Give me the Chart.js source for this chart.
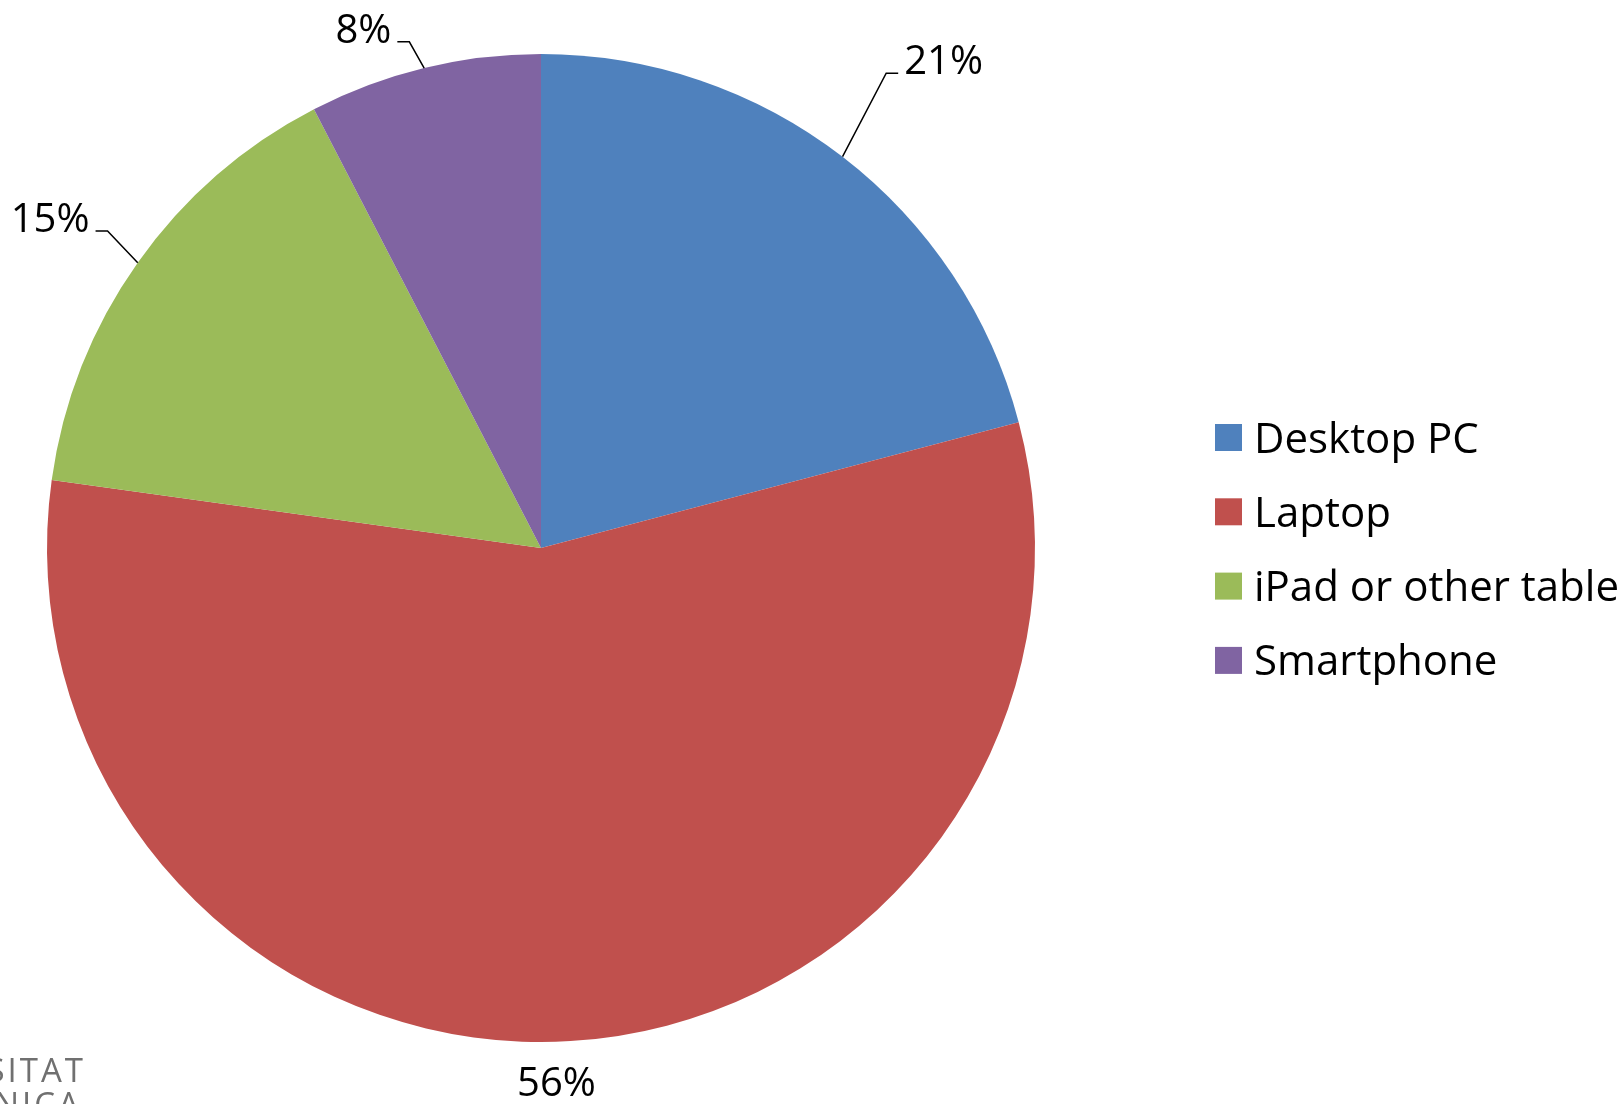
<!DOCTYPE html>
<html>
<head>
<meta charset="utf-8">
<title>Device share</title>
<script src="https://cdn.jsdelivr.net/npm/chart.js@4.4.1/dist/chart.umd.min.js"></script>
<style>
  html, body { margin: 0; padding: 0; background: #fff; overflow: hidden; }
  #wrap { position: relative; width: 1617px; height: 1104px; }
  canvas { position: absolute; left: 0; top: 0; }
  .logo {
    position: absolute; left: -300px; width: 386px; text-align: right;
    font-family: "Open Sans", sans-serif; font-weight: 400; color: #707070;
    font-size: 33px; letter-spacing: 3px; line-height: 1; white-space: nowrap;
  }
</style>
</head>
<body>
<div id="wrap">
  <canvas id="chart" width="1617" height="1104"></canvas>
  <div class="logo" style="top: 1053px;">UNIVERSITAT</div>
  <div class="logo" style="top: 1087px; left: -304px;">POLITÈCNICA</div>
</div>
<script>
const categories = ['Desktop PC', 'Laptop', 'iPad or other tablet', 'Smartphone'];
const shares = [20.9, 56.3, 15.2, 7.6];

const colors = ['#4F81BD', '#C0504D', '#9BBB59', '#8064A2'];
const FONT = '"Open Sans", "DejaVu Sans", sans-serif';

// data labels with Excel-style leader lines
const pieLabels = {
  id: 'pieLabels',
  afterDatasetsDraw(chart, args, opts) {
    const ctx = chart.ctx;
    const arcs = chart.getDatasetMeta(0).data;
    const values = chart.data.datasets[0].data;
    const total = values.reduce((a, b) => a + b, 0);
    ctx.save();
    ctx.font = opts.size + 'px ' + FONT;
    ctx.fillStyle = '#000';
    ctx.strokeStyle = '#000';
    ctx.lineWidth = 1.5;
    arcs.forEach((arc, i) => {
      const p = arc.getProps(['x', 'y', 'startAngle', 'endAngle', 'outerRadius'], true);
      const txt = Math.round(values[i] / total * 100) + '%';
      const mid = (p.startAngle + p.endAngle) / 2;
      const a = mid + opts.nudge[i] * Math.PI / 180;
      const ex = p.x + Math.cos(a) * (p.outerRadius + opts.offsets[i]);
      const ey = p.y + Math.sin(a) * (p.outerRadius + opts.offsets[i]);
      ctx.textBaseline = 'alphabetic';
      if (!opts.leader[i]) {
        ctx.textAlign = 'center';
        ctx.fillText(txt, ex, ey);
        return;
      }
      const dir = Math.cos(a) >= 0 ? 1 : -1;
      const hx = ex + dir * 12;
      ctx.beginPath();
      ctx.moveTo(p.x + Math.cos(mid) * p.outerRadius, p.y + Math.sin(mid) * p.outerRadius);
      ctx.lineTo(ex, ey);
      ctx.lineTo(hx, ey);
      ctx.stroke();
      ctx.textAlign = dir > 0 ? 'left' : 'right';
      ctx.fillText(txt, hx + dir * 6, ey + 1);
    });
    ctx.restore();
  }
};

// legend on the right, drawn from the chart's own labels and colours
const sideLegend = {
  id: 'sideLegend',
  afterDraw(chart, args, opts) {
    const ctx = chart.ctx;
    const ds = chart.data.datasets[0];
    ctx.save();
    ctx.font = opts.size + 'px ' + FONT;
    ctx.textAlign = 'left';
    ctx.textBaseline = 'alphabetic';
    chart.data.labels.forEach((lab, i) => {
      const y = opts.top + i * opts.step;
      ctx.fillStyle = ds.backgroundColor[i];
      ctx.fillRect(opts.left, y, opts.box, opts.box);
      ctx.fillStyle = '#000';
      ctx.fillText(lab, opts.left + opts.box + 12, y + opts.box / 2 + 15);
    });
    ctx.restore();
  }
};

new Chart(document.getElementById('chart'), {
  type: 'pie',
  data: {
    labels: categories,
    datasets: [{
      data: shares,
      backgroundColor: colors,
      borderWidth: 0
    }]
  },
  options: {
    responsive: false,
    animation: false,
    events: [],
    layout: { padding: { left: 47, right: 582, top: 54, bottom: 62 } },
    plugins: {
      legend: { display: false },
      tooltip: { enabled: false },
      pieLabels: {
        size: 40,
        offsets: [93, 54, 43, 29],
        nudge: [-1.6, 1.8, 0.9, -0.9],
        leader: [true, false, true, true]
      },
      sideLegend: { left: 1215, top: 424, step: 74.3, box: 27, size: 42 }
    }
  },
  plugins: [pieLabels, sideLegend]
});
</script>
</body>
</html>
